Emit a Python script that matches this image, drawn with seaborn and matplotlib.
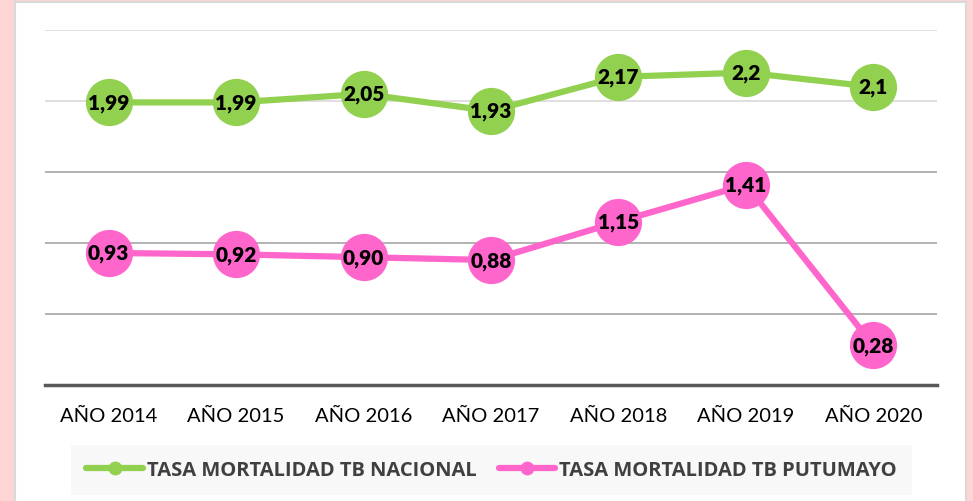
import matplotlib
matplotlib.use("Agg")
import matplotlib.pyplot as plt
import seaborn as sns
import pandas as pd
from matplotlib.patches import Rectangle
from matplotlib.lines import Line2D

# ---- data ----
years = ["AÑO 2014", "AÑO 2015", "AÑO 2016", "AÑO 2017", "AÑO 2018", "AÑO 2019", "AÑO 2020"]
nacional_labels = ["1,99", "1,99", "2,05", "1,93", "2,17", "2,2", "2,1"]
putumayo_labels = ["0,93", "0,92", "0,90", "0,88", "1,15", "1,41", "0,28"]
nacional = [float(s.replace(",", ".")) for s in nacional_labels]
putumayo = [float(s.replace(",", ".")) for s in putumayo_labels]
series_names = ["TASA MORTALIDAD TB NACIONAL", "TASA MORTALIDAD TB PUTUMAYO"]
colors = ["#92D050", "#FF66CC"]

df = pd.DataFrame({
    "year": years * 2,
    "x": list(range(len(years))) * 2,
    "value": nacional + putumayo,
    "serie": [series_names[0]] * len(years) + [series_names[1]] * len(years),
})

sns.set_theme(style="white")
plt.rcParams["font.family"] = ["Lato", "DejaVu Sans"]

W, H = 973, 502
fig = plt.figure(figsize=(W / 100, H / 100), dpi=100)
fig.patch.set_facecolor("#FDD5D5")
fig.patches.append(Rectangle((15 / W, -0.01), (966 - 15) / W, (H - 3) / H + 0.01, transform=fig.transFigure,
                             facecolor="white", edgecolor="#D9D9D9", linewidth=1.5, zorder=-5))

ax = fig.add_axes([45 / W, (H - 386) / H, (937 - 45) / W, (386 - 31) / H])
ax.set_zorder(2)
ax.set_facecolor("none")

sns.lineplot(data=df, x="x", y="value", hue="serie", palette=colors, ax=ax,
             linewidth=4.5, marker="o", markersize=34, markeredgewidth=0,
             legend=False, zorder=3)
for line in ax.lines:
    line.set_clip_on(False)

for i in range(len(years)):
    ax.text(i, nacional[i], nacional_labels[i], ha="center", va="center",
            fontsize=15, fontweight="heavy", color="black", zorder=5,
            family=["Lato", "DejaVu Sans"])
    ax.text(i, putumayo[i], putumayo_labels[i], ha="center", va="center",
            fontsize=15, fontweight="heavy", color="black", zorder=5,
            family=["Lato", "DejaVu Sans"])

ax.set_xlim(-0.5, len(years) - 0.5)
ax.set_ylim(0, 2.5)
ticks = [0.5, 1.0, 1.5, 2.0, 2.5]
for t in ticks:
    ax.axhline(t, color="#A6A6A6" if t < 1.9 else "#D9D9D9", linewidth=1.2, zorder=1)
ax.set_yticks([])
ax.set_xticks(range(len(years)))
ax.set_xticklabels(years, fontsize=14.5, color="black")
ax.tick_params(axis="x", length=0, pad=16)
ax.set_xlabel("")
ax.set_ylabel("")
for s in ["top", "right", "left"]:
    ax.spines[s].set_visible(False)
ax.spines["bottom"].set_color("#595959")
ax.spines["bottom"].set_linewidth(2.5)

handles = [Line2D([0], [0], color=c, linewidth=4.5, marker="o", markersize=10, markeredgewidth=0)
           for c in colors]
leg = fig.legend(handles, series_names, loc="center", ncol=2,
                 bbox_to_anchor=((63 + 920) / 2 / W, 1 - 471 / H),
                 frameon=True, fancybox=False, handlelength=2.8, columnspacing=1.1,
                 handletextpad=0.2, borderpad=0.75,
                 prop={"family": ["Open Sans", "DejaVu Sans"], "weight": "bold", "size": 14.5})
leg.get_frame().set_facecolor("#F7F7F7")
leg.get_frame().set_edgecolor("none")
for t in leg.get_texts():
    t.set_color("#404040")

fig.savefig("out.png", dpi=100, facecolor=fig.get_facecolor())
